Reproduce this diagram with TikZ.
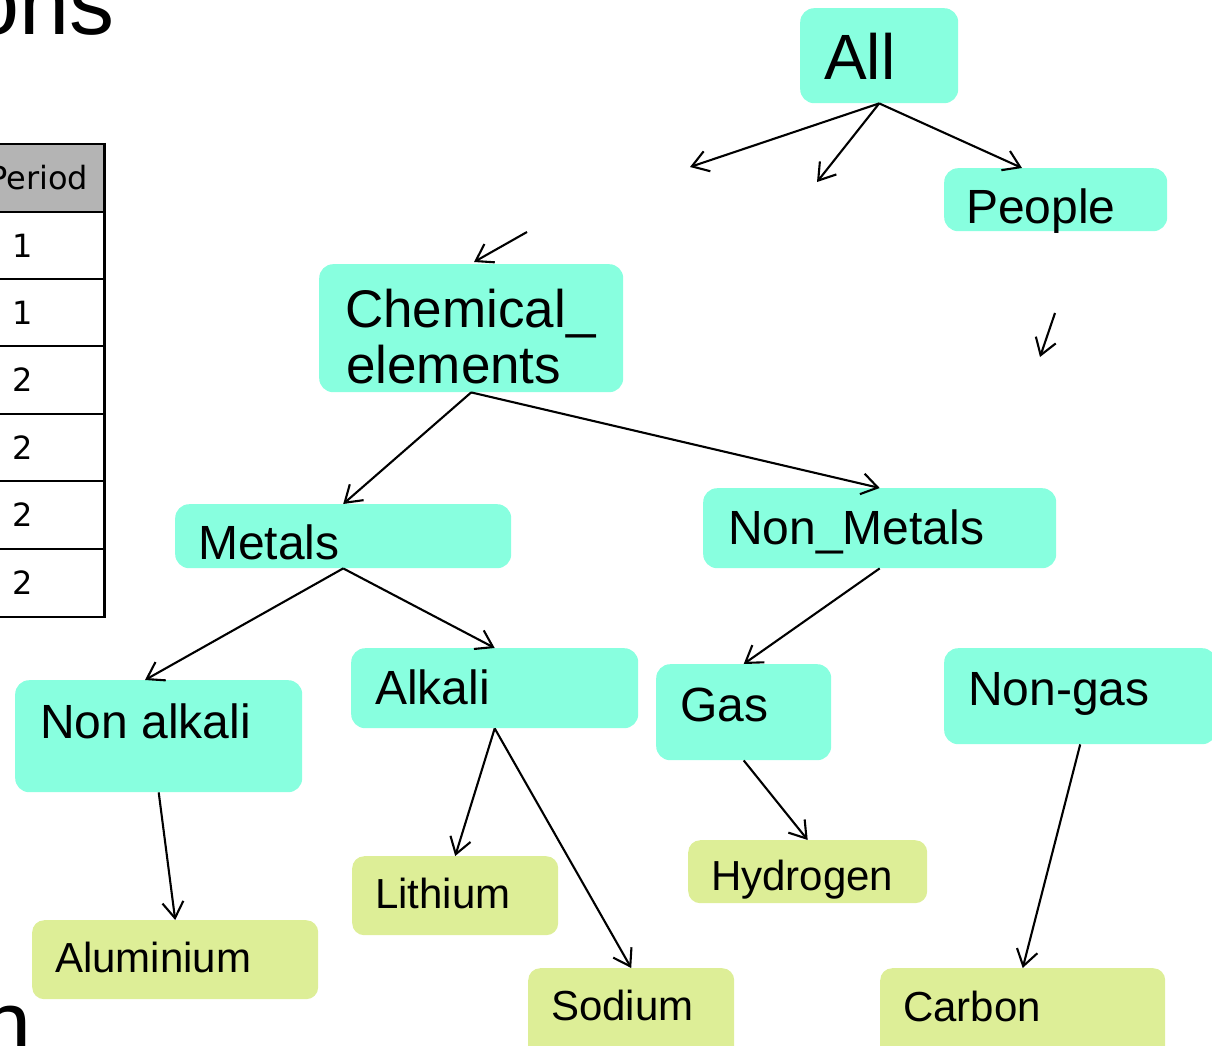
\documentclass[tikz,border=0pt]{standalone}
\usepackage{fontspec}
\setmainfont{Liberation Sans}
\newfontfamily\dejavu{DejaVu Sans}
\usetikzlibrary{arrows.meta}
\definecolor{aqua}{RGB}{136,255,223}
\definecolor{lime}{RGB}{221,238,151}
\definecolor{hdr}{RGB}{180,180,180}
\begin{document}
\begin{tikzpicture}[x=1pt,y=-1pt,
  cat/.style={fill=aqua, draw=none, rounded corners=14pt, inner sep=0pt, anchor=north west},
  leaf/.style={fill=lime, draw=none, rounded corners=12pt, inner sep=0pt, anchor=north west},
  lbl/.style={anchor=base west, inner sep=0pt, font=\fontsize{48}{56}\selectfont},
  small/.style={anchor=base west, inner sep=0pt, font=\fontsize{42}{50}\selectfont},
  conn/.style={-{Straight Barb[length=16pt,width=21pt]}, line width=2.1pt},
  cellline/.style={draw=black, line width=2.5pt},
  tnum/.style={anchor=base west, inner sep=0pt, font=\dejavu\fontsize{32}{36}\selectfont}
]
\useasboundingbox (0,0) rectangle (1212,1046);
\clip (0,0) rectangle (1212,1046);

% big background title fragments
\node[anchor=base west, inner sep=0pt, font=\fontsize{90}{100}\selectfont] (ttl) at (-31,35) {ons};
\node[anchor=base west, inner sep=0pt, font=\fontsize{90}{100}\selectfont] (ttl2) at (-19,1054) {n};

% table fragment
\fill[hdr] (-10,144) rectangle (104,212);
\foreach \ya/\yb in {144/212,212/279,279/346,346/414,414/481,481/549,549/617}
  \draw[cellline] (-10,\ya) rectangle (104,\yb);
\draw[line width=3pt] (104,142.75) -- (104,618.25);
\node[tnum] (tp) at (-12,189) {Period};
\node[tnum] (t1) at (12,257) {1};
\node[tnum] (t2) at (12,324) {1};
\node[tnum] (t3) at (12,391.5) {2};
\node[tnum] (t4) at (12,459) {2};
\node[tnum] (t5) at (12,526.5) {2};
\node[tnum] (t6) at (12,594) {2};

% boxes
\node[cat, minimum width=158, minimum height=95] (all) at (800,8) {};
\node[cat, minimum width=223, minimum height=63] (people) at (944,168) {};
\node[cat, minimum width=304, minimum height=128] (chem) at (319,264) {};
\node[cat, minimum width=336, minimum height=64] (metals) at (175,504) {};
\node[cat, minimum width=353, minimum height=80] (nonmetals) at (703,488) {};
\node[cat, minimum width=287, minimum height=112] (nonalkali) at (15,680) {};
\node[cat, minimum width=287, minimum height=80] (alkali) at (351,648) {};
\node[cat, minimum width=175, minimum height=96] (gas) at (656,664) {};
\node[cat, minimum width=272, minimum height=96] (nongas) at (944,648) {};
\node[leaf, minimum width=286, minimum height=79] (aluminium) at (32,920) {};
\node[leaf, minimum width=206, minimum height=79] (lithium) at (352,856) {};
\node[leaf, minimum width=206, minimum height=90] (sodium) at (528,968) {};
\node[leaf, minimum width=239, minimum height=63] (hydrogen) at (688,840) {};
\node[leaf, minimum width=285, minimum height=90] (carbon) at (880,968) {};

% labels
\node[anchor=base west, inner sep=0pt, font=\fontsize{64}{70}\selectfont] (allT) at (824,80) {All};
\node[lbl] (peopleT) at (966,223) {People};
\node[anchor=base west, inner sep=0pt, font=\fontsize{53}{56}\selectfont] (chemT1) at (345,327) {Chemical\_};
\node[anchor=base west, inner sep=0pt, font=\fontsize{53}{56}\selectfont] (chemT2) at (346,383) {elements};
\node[lbl] (metalsT) at (198,559) {Metals};
\node[lbl] (nonmetalsT) at (728,544) {Non\_Metals};
\node[lbl] (nonalkaliT) at (40,738) {Non alkali};
\node[lbl] (alkaliT) at (375,704) {Alkali};
\node[lbl] (gasT) at (680,721) {Gas};
\node[lbl] (nongasT) at (968,705) {Non-gas};
\node[small] (aluminiumT) at (55,972) {Aluminium};
\node[small] (lithiumT) at (375,908) {Lithium};
\node[small] (sodiumT) at (551,1020) {Sodium};
\node[small] (hydrogenT) at (711,890) {Hydrogen};
\node[small] (carbonT) at (903,1021) {Carbon};

% free arrow ends
\coordinate (f1) at (690,167);
\coordinate (f2) at (817,182);
\coordinate (f3s) at (527,232);
\coordinate (f3e) at (474,262);
\coordinate (f4s) at (1055,313);
\coordinate (f4e) at (1040,357);

% connectors
\draw[conn] (all.south) -- (f1);
\draw[conn] (all.south) -- (f2);
\draw[conn] (all.south) -- ([xshift=78pt]people.north west);
\draw[conn] (f3s) -- (f3e);
\draw[conn] (f4s) -- (f4e);
\draw[conn] (chem.south) -- (metals.north);
\draw[conn] (chem.south) -- (nonmetals.north);
\draw[conn] (metals.south) -- ([xshift=130pt]nonalkali.north west);
\draw[conn] (metals.south) -- (alkali.north);
\draw[conn] (nonmetals.south) -- (gas.north);
\draw[conn] (alkali.south) -- (lithium.north);
\draw[conn] (alkali.south) -- (sodium.north);
\draw[conn] (nonalkali.south) -- (aluminium.north);
\draw[conn] (gas.south) -- (hydrogen.north);
\draw[conn] (nongas.south) -- (carbon.north);
\end{tikzpicture}
\end{document}
